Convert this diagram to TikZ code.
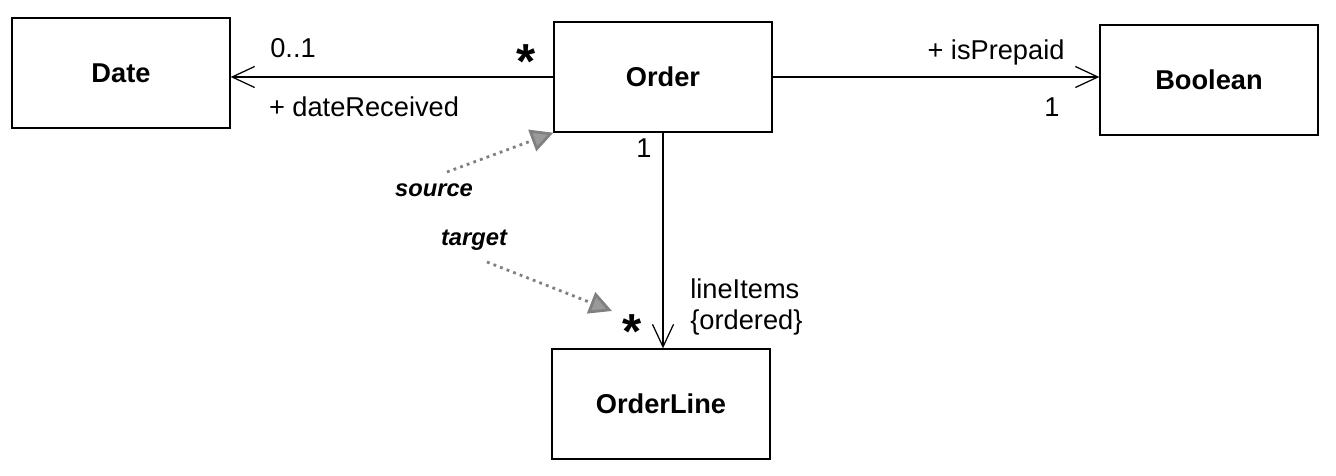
\documentclass[tikz,border=0pt]{standalone}
\usepackage{fontspec}
\setmainfont{Liberation Sans}
\usetikzlibrary{arrows.meta}

\begin{document}
\begin{tikzpicture}[x=0.02cm,y=-0.02cm,
  cls/.style={draw=black, line width=0.8pt, minimum width=4.36cm, minimum height=2.2cm, font=\fontsize{15.5}{18}\selectfont\bfseries},
  lbl/.style={font=\fontsize{15.5}{18}\selectfont, inner sep=0pt},
  mult/.style={font=\fontsize{28}{28}\selectfont\bfseries, inner sep=0pt},
  assoc/.style={line width=0.7pt, -{Straight Barb[length=0.45cm,width=0.42cm,line width=0.7pt]}},
  note/.style={gray, line width=1.6pt, dash pattern=on 1.6pt off 2.4pt, -{Triangle[length=0.45cm,width=0.45cm,fill=gray!80]}},
  role/.style={font=\fontsize{13.5}{15}\selectfont\bfseries\itshape, inner sep=0pt}]
\useasboundingbox (0,0) rectangle (1336,476);

% classes
\node[cls] (date) at (121,73) {Date};
\node[cls] (order) at (663,77) {Order};
\node[cls] (bool) at (1209,80) {Boolean};
\node[cls] (line) at (661,404) {OrderLine};

% associations
\draw[assoc] (order.west) -- (order.west -| date.east);
\draw[assoc] (order.east) -- (order.east -| bool.west);
\draw[assoc] (order.south) -- (order.south |- line.north);

\node[lbl] (datemult) at (293,48) {0..1};
\node[mult] (ordermult) at (526,62) {*};
\node[lbl] (daterole) at (364,107) {+ dateReceived};
\node[lbl] (boolrole) at (996,52) {+ isPrepaid};
\node[lbl] (boolmult) at (1052,107) {1};
\node[lbl] (ordertop) at (644,148) {1};
\node[mult] (linemult) at (632,332) {*};
\node[lbl, align=left, anchor=west] (linerole) at (690,307) {lineItems\\\{ordered\}};

% source / target
\node[role] (src) at (434,190) {source};
\node[role] (tgt) at (474,240) {target};
\coordinate (srcfoot) at (447,172);
\coordinate (tgtfoot) at (487,262);
\coordinate (tgthead) at (612,311);
\draw[note] (srcfoot) -- (order.south west);
\draw[note] (tgtfoot) -- (tgthead);
\end{tikzpicture}
\end{document}
